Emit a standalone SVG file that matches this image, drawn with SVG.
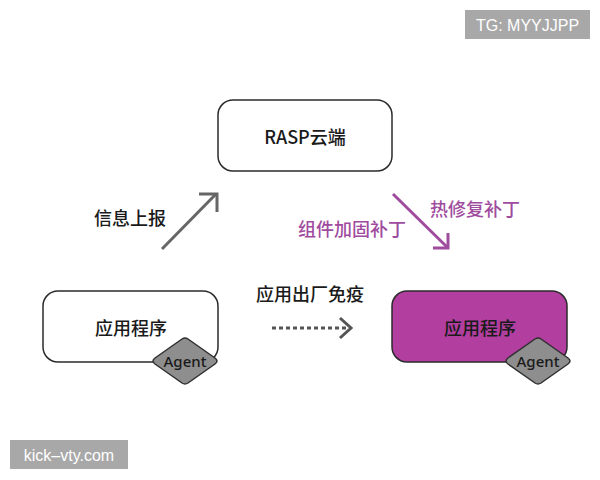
<svg xmlns="http://www.w3.org/2000/svg" width="600" height="480" viewBox="0 0 600 480">
<style>
.box{stroke:#2b2b2b;stroke-width:1.5}
.lbl{font-family:"Noto Sans CJK SC","Noto Sans",sans-serif;font-size:18px;font-weight:500;fill:#1a1a1a;text-anchor:middle;dominant-baseline:central}
.plbl{font-family:"Noto Sans CJK SC","Noto Sans",sans-serif;font-size:18px;font-weight:500;fill:#a04c9e;text-anchor:middle;dominant-baseline:central}
.agent{fill:#8e8e8e;stroke:#2f2f2f;stroke-width:1.5;stroke-linejoin:round}
.agtxt{font-family:"Noto Sans","Open Sans",sans-serif;font-size:15px;font-weight:500;fill:#1a1a1a;text-anchor:middle;dominant-baseline:central}
.wm{font-family:"Liberation Sans",Arial,sans-serif;font-size:16px;fill:#ffffff;text-anchor:middle;dominant-baseline:central}
</style>
<rect width="600" height="480" fill="#ffffff"/>
<g id="wm-tg"><rect x="465" y="10" width="125" height="29" fill="#a8a8a8"/><text class="wm" x="527.5" y="25">TG: MYYJJPP</text></g>
<g id="wm-site"><rect x="10" y="440" width="118" height="29" fill="#a8a8a8"/><text class="wm" x="69" y="455">kick–vty.com</text></g>
<g id="rasp"><rect class="box" x="218" y="100" width="174" height="71" rx="15" fill="#ffffff"/><text class="lbl" x="305" y="136">RASP云端</text></g>
<g id="app-left"><rect class="box" x="43" y="291" width="175" height="71" rx="15" fill="#ffffff"/><text class="lbl" x="131" y="327">应用程序</text>
<path class="agent" d="M155,358 L182,339 Q185,337 188,339 L215,358 Q219,361 215,364 L188,383 Q185,385 182,383 L155,364 Q151,361 155,358 Z"/><text class="agtxt" x="185" y="361">Agent</text></g>
<g id="app-right"><rect class="box" x="392" y="291" width="175" height="71" rx="15" fill="#b23e9f"/><text class="lbl" x="480" y="327">应用程序</text>
<path class="agent" d="M508,358 L535,339 Q538,337 541,339 L568,358 Q572,361 568,364 L541,383 Q538,385 535,383 L508,364 Q504,361 508,358 Z"/><text class="agtxt" x="538" y="361">Agent</text></g>
<g id="connectors" fill="none" stroke-linecap="butt">
<g stroke="#666666" stroke-width="3"><line x1="162" y1="249" x2="216" y2="194"/><polyline points="199,194 217,194 217,212"/></g>
<g stroke="#a04c9e" stroke-width="3"><line x1="393" y1="194" x2="447" y2="247"/><polyline points="433,248 448,248 448,233"/></g>
<g stroke="#555555" stroke-width="3"><line x1="272" y1="328" x2="346" y2="328" stroke-dasharray="4,3"/><polyline points="340,318 351,328 340,338"/></g>
</g>
<g id="labels">
<text class="lbl" x="130" y="217">信息上报</text>
<text class="plbl" x="352" y="228">组件加固补丁</text>
<text class="plbl" x="475" y="208">热修复补丁</text>
<text class="lbl" x="310" y="293">应用出厂免疫</text>
</g>
</svg>
